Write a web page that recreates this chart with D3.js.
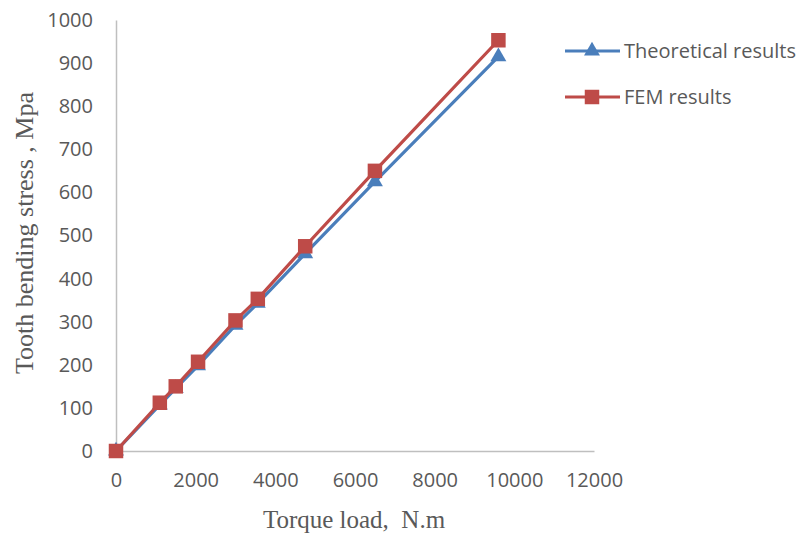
<!DOCTYPE html>
<html>
<head>
<meta charset="utf-8">
<script src="https://cdn.jsdelivr.net/npm/d3@7"></script>
<style>
body { margin: 0; background: #fff; }
</style>
</head>
<body>
<svg id="chart" width="806" height="533"></svg>
<script>
// torque load (N.m) and stress (Mpa)
var torque = [0, 1100, 1500, 2060, 3000, 3560, 4750, 6500, 9600];
var theoretical = [0, 107, 145, 198, 292, 343, 458, 625, 915];
var fem = [0, 112, 150, 207, 303, 353, 475, 650, 953];
var xTicks = [0, 2000, 4000, 6000, 8000, 10000, 12000];
var yTicks = [0, 100, 200, 300, 400, 500, 600, 700, 800, 900, 1000];

var svg = d3.select('#chart');
var x = d3.scaleLinear().domain([0, 12000]).range([116, 594]);
var y = d3.scaleLinear().domain([0, 1000]).range([451, 20]);

var blue = '#4a7ebb', red = '#be4b48', grey = '#595959';
var sans = 'Open Sans, Liberation Sans, sans-serif';

// axes
var xAxis = svg.append('g').attr('transform', 'translate(0,451)')
    .call(d3.axisBottom(x).tickValues(xTicks).tickSize(0).tickPadding(22).tickFormat(d3.format('d')));
var yAxis = svg.append('g').attr('transform', 'translate(116,0)')
    .call(d3.axisLeft(y).tickValues(yTicks).tickSize(0).tickPadding(23).tickFormat(d3.format('d')));
[xAxis, yAxis].forEach(function(a){
    a.select('.domain').attr('stroke', '#bfbfbf').attr('stroke-width', 1.5);
    a.selectAll('text').attr('fill', grey).style('font-family', sans).style('font-size', '20px');
});

// axis titles
svg.append('text').attr('x', 354).attr('y', 528).attr('text-anchor', 'middle')
    .style('font-family', 'Liberation Serif, serif').style('font-size', '25px').attr('fill', grey)
    .style('white-space', 'pre')
    .text('Torque load,  N.m');
svg.append('text').attr('transform', 'translate(33,233) rotate(-90)').attr('text-anchor', 'middle')
    .style('font-family', 'Liberation Serif, serif').style('font-size', '26px').attr('fill', grey)
    .text('Tooth bending stress , Mpa');

var series = [
    { name: 'Theoretical results', values: theoretical, color: blue, shape: d3.symbolTriangle, size: 110 },
    { name: 'FEM results', values: fem, color: red, shape: d3.symbolSquare, size: 210 }
];

var line = d3.line().x(function(d){ return x(d[0]); }).y(function(d){ return y(d[1]); });

series.forEach(function(s, k){
    var pts = torque.map(function(t, i){ return [t, s.values[i]]; });
    svg.append('path').attr('d', line(pts)).attr('fill', 'none')
        .attr('stroke', s.color).attr('stroke-width', 3.2);
    svg.selectAll('.m' + k).data(pts).enter().append('path')
        .attr('transform', function(d){ return 'translate(' + x(d[0]) + ',' + y(d[1]) + ')'; })
        .attr('d', d3.symbol().type(s.shape).size(s.size))
        .attr('fill', s.color);

    // legend
    var ly = 51 + k * 46;
    svg.append('line').attr('x1', 565).attr('x2', 620).attr('y1', ly).attr('y2', ly)
        .attr('stroke', s.color).attr('stroke-width', 3.2);
    svg.append('path').attr('transform', 'translate(592,' + ly + ')')
        .attr('d', d3.symbol().type(s.shape).size(s.size)).attr('fill', s.color);
    svg.append('text').attr('x', 624).attr('y', ly + 7)
        .style('font-family', sans).style('font-size', '20px')
        .attr('fill', grey).text(s.name);
});
</script>
</body>
</html>
